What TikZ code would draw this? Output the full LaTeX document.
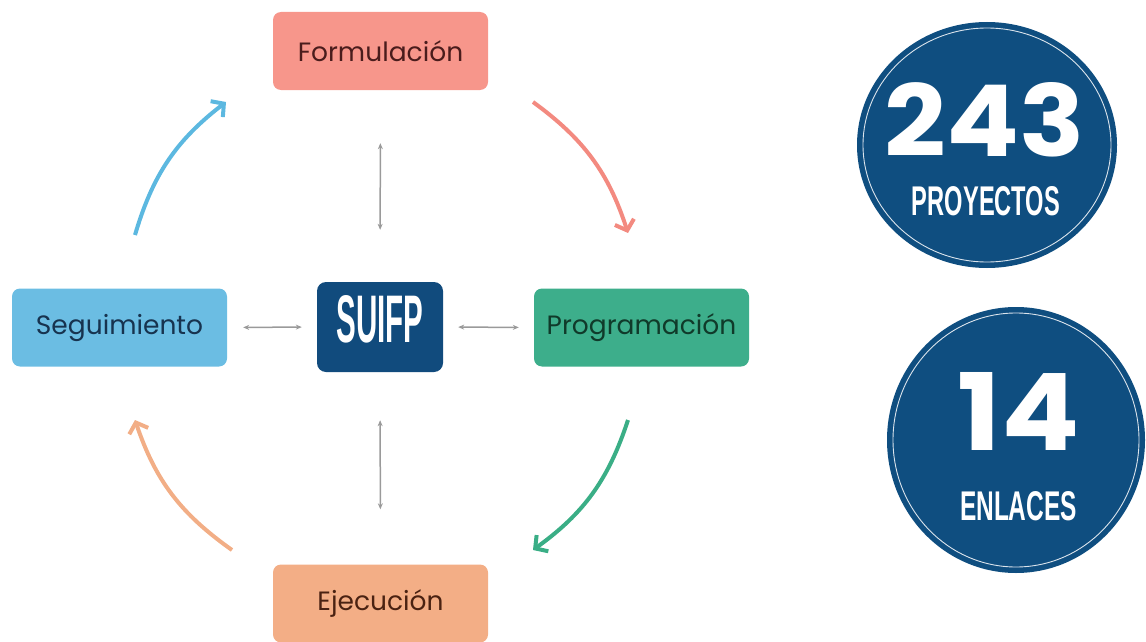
\documentclass[tikz,border=0pt]{standalone}
\usepackage{fontspec}
\setmainfont{Poppins}
\newfontfamily\condfont{Liberation Sans}
\newfontfamily\numfont{Poppins}[UprightFont=* Bold]
\usetikzlibrary{arrows.meta,shapes.geometric}
\definecolor{cform}{HTML}{F7968B}
\definecolor{cseg}{HTML}{6BBDE3}
\definecolor{cprog}{HTML}{3DAE8B}
\definecolor{cejec}{HTML}{F3AE86}
\definecolor{csuifp}{HTML}{114B7D}
\definecolor{ccirc}{HTML}{0F4E80}
\definecolor{aform}{HTML}{F38A80}
\definecolor{aseg}{HTML}{5CB8E0}
\definecolor{aprog}{HTML}{3AAE86}
\definecolor{aejec}{HTML}{F2AE86}
\definecolor{tform}{HTML}{4A1C1C}
\definecolor{tseg}{HTML}{17334F}
\definecolor{tprog}{HTML}{103A2A}
\definecolor{tejec}{HTML}{4A2212}
\definecolor{grayarrow}{HTML}{9A9A9A}
\begin{document}
\begin{tikzpicture}[x=1pt,y=-1pt,
  box/.style={rounded corners=8pt, minimum width=215pt, minimum height=78pt, inner sep=0pt,
    font=\fontsize{26.5}{30}\selectfont},
  link/.style={draw=grayarrow, line width=1.5pt, {Stealth[length=6pt,width=5pt]}-{Stealth[length=6pt,width=5pt]}},
  cyc/.style={line width=4pt, -{Straight Barb[length=9pt,width=20pt]}},
  badge/.style={ellipse, fill=ccirc, inner sep=0pt},
  ring/.style={ellipse, draw=white!85!ccirc, line width=0.9pt, inner sep=0pt},
  badgetext/.style={text=white, inner sep=0pt}
]
\useasboundingbox (0,0) rectangle (1146,642);
% boxes
\node[box, fill=cform, text=tform] (form) at (380.5,51) {Formulación};
\node[box, fill=cseg, text=tseg] (seg) at (119.5,327.5) {Seguimiento};
\node[box, fill=cprog, text=tprog] (prog) at (641.5,327.5) {Programación};
\node[box, fill=cejec, text=tejec] (ejec) at (380.5,603.5) {Ejecución};
\node[rounded corners=9pt, fill=csuifp, minimum width=126pt, minimum height=90pt, inner sep=0pt, text=white] (suifp) at (380,327)
  {\raisebox{8pt}[47pt][0pt]{\resizebox{87pt}{47pt}{\condfont\bfseries SUIFP}}};
% gray links
\draw[link, shorten <=53pt, shorten >=52pt] (form.south) -- (suifp.north);
\draw[link, shorten <=48pt, shorten >=55pt] (suifp.south) -- (ejec.north);
\draw[link, shorten <=16pt, shorten >=15pt] (seg.east) -- (suifp.west);
\draw[link, shorten <=15pt, shorten >=15pt] (suifp.east) -- (prog.west);
% cycle arrows
\coordinate (r1) at (533,102);
\coordinate (r2) at (628,233);
\coordinate (g1) at (628,420);
\coordinate (g2) at (533,550);
\coordinate (o1) at (232,550);
\coordinate (o2) at (135,420);
\coordinate (b1) at (135,235);
\coordinate (b2) at (226,102);
\draw[cyc, aform] (r1) to[bend left=18] (r2);
\draw[cyc, aprog] (g1) to[bend left=18] (g2);
\draw[cyc, aejec] (o1) to[bend left=18] (o2);
\draw[cyc, aseg] (b1) to[bend left=18] (b2);
% badges
\node[badge, minimum width=260pt, minimum height=246pt] (c1) at (987,145) {};
\node[ring, minimum width=248pt, minimum height=234pt] (c1r) at (c1.center) {};
\node[badgetext] (n243) at (985,120) {\resizebox{200pt}{74pt}{\numfont 243}};
\node[badgetext] (proy) at (986,201) {\resizebox{148pt}{29pt}{\condfont\bfseries PROYECTOS}};
\node[badge, minimum width=258pt, minimum height=266pt] (c2) at (1016,440) {};
\node[ring, minimum width=246pt, minimum height=254pt] (c2r) at (c2.center) {};
\node[badgetext] (n14) at (1019,411) {\resizebox{122pt}{78pt}{\numfont 14}};
\node[badgetext] (enl) at (1018.5,506) {\resizebox{117pt}{29pt}{\condfont\bfseries ENLACES}};
\end{tikzpicture}
\end{document}
